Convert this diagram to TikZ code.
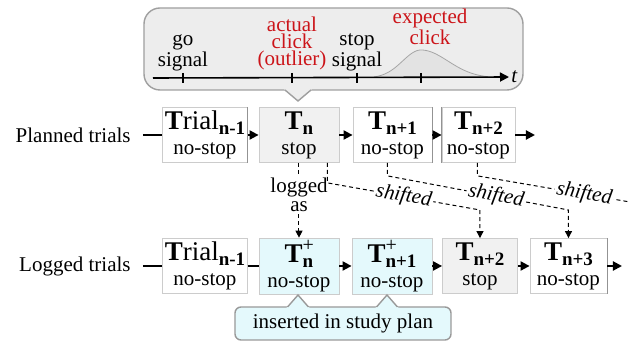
\documentclass[tikz,border=0pt]{standalone}
\usepackage{fontspec}
\setmainfont{Liberation Serif}
\usetikzlibrary{arrows.meta,positioning}
\definecolor{clickred}{RGB}{204,20,25}
\definecolor{stopgray}{RGB}{241,241,241}
\definecolor{addcyan}{RGB}{228,249,252}
\definecolor{panelgray}{RGB}{237,237,237}
\newcommand{\trsub}[1]{\raisebox{-0.55ex}{\fontsize{9.5}{9}\selectfont\bfseries #1}}
\newcommand{\trT}{{\fontsize{13.5}{13}\selectfont\bfseries T}}
\newcommand{\trTp}{\trT\rlap{\raisebox{1.15ex}{\fontsize{10}{10}\selectfont +}}}
\tikzset{
  trialbox/.style={draw=gray!40, minimum height=27.5pt, inner sep=1pt, align=center},
  stopbox/.style={trialbox, fill=stopgray},
  plusbox/.style={trialbox, fill=addcyan},
  chain/.style={line width=1pt},
  shiftline/.style={dash pattern=on 2pt off 1.5pt, line width=0.5pt, -{Triangle[length=3.5pt,width=3.5pt]}},
  shiftlabel/.style={sloped, fill=white, inner sep=1pt, font=\fontsize{10.5}{12}\selectfont\itshape},
}

\begin{document}
\begin{tikzpicture}[x=0.5pt, y=-0.5pt, font=\fontsize{10.5}{12.5}\selectfont,
    >={Triangle[length=4.5pt,width=4.5pt]}]
  \useasboundingbox (0,0) rectangle (634,341);

  % timeline panel
  \draw[gray!75, line width=0.7pt, fill=panelgray, rounded corners=8pt] (144,8) rectangle (523,90);
  \fill[panelgray] (284,89) -- (298,101) -- (312,89) -- cycle;
  \draw[gray!75, line width=0.7pt] (285,90) -- (298,101) -- (311,90);

  \draw[gray!70, fill=gray!22]
    plot[domain=374:421, samples=30, smooth] (\x,{78-28*exp(-((\x-421)/26)*((\x-421)/26))})
    -- plot[domain=421:488, samples=30, smooth] (\x,{78-28*exp(-((\x-421)/38)*((\x-421)/38))});

  \coordinate (t0) at (153,78);
  \node[anchor=west, inner sep=1pt] (tlab) at (509,77) {\itshape t};
  \draw[line width=0.8pt, ->] (t0) -- (tlab);
  \foreach \x in {183,292,357,421}
    \draw[line width=0.6pt] (\x,73) -- (\x,83);

  \begin{scope}[align=center, anchor=base, font=\fontsize{10.5}{8.5}\selectfont]
    \node (go) at (183,66.5) {go\\signal};
    \node[clickred] (actual) at (292,66) {actual\\click\\(outlier)};
    \node (stop) at (357,66.5) {stop\\signal};
    \node[clickred] (expected) at (430,45) {expected\\click};
  \end{scope}

  % planned trials
  \node[anchor=east, inner xsep=6pt, inner ysep=0pt] (planned) at (143,135) {Planned trials};
  \node[trialbox, minimum width=42pt] (Pm) at (205,135) {{\fontsize{13.5}{13}\selectfont\textbf{T}rial}\trsub{n-1}\\no-stop};
  \node[stopbox, minimum width=40pt] (Pn) at (299,135) {\trT\trsub{n}\\stop};
  \node[trialbox, minimum width=39.5pt] (P1) at (392.5,135) {\trT\trsub{n+1}\\no-stop};
  \node[trialbox, minimum width=36.5pt] (P2) at (478.5,135) {\trT\trsub{n+2}\\no-stop};
  \coordinate (pend) at (535,135);

  % logged trials
  \node[anchor=east, inner xsep=6pt, inner ysep=0pt] (logged) at (143,266) {Logged trials};
  \node[trialbox, minimum width=42pt] (Lm) at (205,266) {{\fontsize{13.5}{13}\selectfont\textbf{T}rial}\trsub{n-1}\\no-stop};
  \node[plusbox, minimum width=40pt] (L0) at (299,266) {\trTp\trsub{n}\\no-stop};
  \node[plusbox, minimum width=40pt] (L1) at (392,266) {\trTp\trsub{n+1}\\no-stop};
  \node[stopbox, minimum width=37.5pt] (L2) at (480,266) {\trT\trsub{n+2}\\stop};
  \node[trialbox, minimum width=38.5pt] (L3) at (568.5,266) {\trT\trsub{n+3}\\no-stop};
  \coordinate (lend) at (622,266);

  \foreach \b in {Pm,P1,L3}
    \draw[gray!85, line width=0.7pt] (\b.north east) -- (\b.south east);
  \draw[gray!85, line width=0.7pt] (P2.north west) -- (P2.south west);

  \draw[chain] (planned) -- (Pm);
  \draw[chain,->] (Pm) -- (Pn);
  \draw[chain,->] (Pn) -- (P1);
  \draw[chain,->] (P1) -- (P2);
  \draw[chain,->] (P2) -- (pend);

  \draw[chain] (logged) -- (Lm);
  \draw[chain] (Lm) -- (L0);
  \draw[chain,->] (L0) -- (L1);
  \draw[chain,->] (L1) -- (L2);
  \draw[chain,->] (L2) -- (L3);
  \draw[chain,->] (L3) -- (lend);

  % dashed mapping
  \node[align=center, inner sep=1pt, font=\fontsize{10.5}{9.5}\selectfont] (logas) at (299,195) {logged\\as};
  \draw[shiftline,-] (Pn) -- (logas);
  \draw[shiftline] (logas) -- (L0);
  \draw[shiftline] ([xshift=-6pt]Pn.south east) -- ++(0,20)
    -- node[shiftlabel] {shifted} (L2.north |- 0,210) -- (L2.north);
  \draw[shiftline] ([xshift=-2.5pt]P1.south) -- ++(0,13)
    -- node[shiftlabel, pos=0.6] {shifted} (L3.north |- 0,210) -- (L3.north);
  \coordinate (more) at (630,202);
  \draw[shiftline,-] ([xshift=-0.5pt]P2.south) -- ++(0,13)
    -- node[shiftlabel, pos=0.7] {shifted} (more);

  % inserted note
  \node[draw=gray!80, line width=0.7pt, fill=addcyan, rounded corners=3pt, minimum width=108pt,
    minimum height=16.5pt, inner sep=2pt] (ins) at (343,323.5) {inserted in study plan};
  \foreach \x in {298,387} {
    \fill[addcyan] (\x-12,308.5) -- (\x,295) -- (\x+12,308.5) -- cycle;
    \draw[gray!80, line width=0.7pt] (\x-10.5,307) -- (\x,295) -- (\x+10.5,307);
  }
\end{tikzpicture}
\end{document}
